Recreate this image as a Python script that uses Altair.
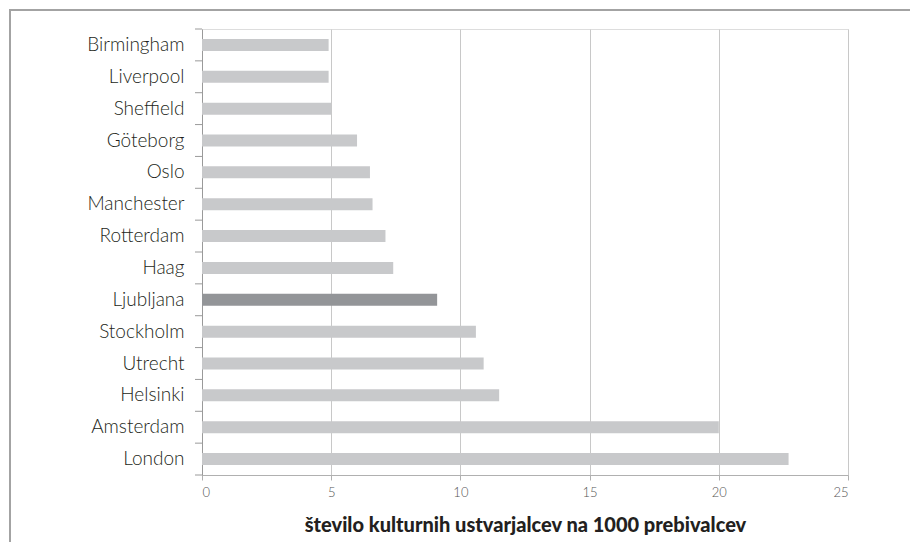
import altair as alt
import pandas as pd

# ---- data ----
cities = ["Birmingham", "Liverpool", "Sheffield", "Göteborg", "Oslo", "Manchester",
          "Rotterdam", "Haag", "Ljubljana", "Stockholm", "Utrecht", "Helsinki",
          "Amsterdam", "London"]
values = [4.9, 4.9, 5.0, 6.0, 6.5, 6.6, 7.1, 7.4, 9.1, 10.6, 10.9, 11.5, 20.0, 22.7]
highlight_city = "Ljubljana"
x_ticks = [0, 5, 10, 15, 20, 25]
x_title = "število kulturnih ustvarjalcev na 1000 prebivalcev"

df = pd.DataFrame({"mesto": cities, "vrednost": values})
df["poudarek"] = ["da" if c == highlight_city else "ne" for c in cities]

FONT = "Lato"
AXIS_GREY = "#9a9a9a"

y_scale = alt.Scale(paddingInner=0, paddingOuter=0)

bars = alt.Chart(df).mark_bar(size=12).encode(
    y=alt.Y(
        "mesto:N",
        sort=cities,
        scale=y_scale,
        axis=alt.Axis(
            title=None,
            ticks=False,
            labelFont=FONT,
            labelFontSize=19,
            labelFontWeight=300,
            labelColor="#231f20",
            labelPadding=18,
            domain=True,
            domainColor=AXIS_GREY,
            domainWidth=1,
            grid=False,
        ),
    ),
    x=alt.X(
        "vrednost:Q",
        scale=alt.Scale(domain=[0, 25], nice=False),
        axis=alt.Axis(
            values=x_ticks,
            grid=True,
            gridColor="#c8c8c8",
            tickSize=5,
            tickColor="#b0b0b0",
            domainColor="#b0b0b0",
            labelFont=FONT,
            labelFontSize=13,
            labelFontWeight=300,
            labelColor="#555555",
            labelPadding=6,
            title=x_title,
            titleFont=FONT,
            titleFontSize=20,
            titleFontWeight=900,
            titleColor="#231f20",
            titlePadding=16,
        ),
    ),
    color=alt.Color(
        "poudarek:N",
        scale=alt.Scale(domain=["ne", "da"], range=["#c8c9cb", "#939598"]),
        legend=None,
    ),
)

# category separator ticks on the y axis (at the start of each band)
sep_ticks = alt.Chart(df).mark_rule(color=AXIS_GREY, strokeWidth=1).encode(
    y=alt.Y("mesto:N", sort=cities, bandPosition=0, scale=y_scale),
    x=alt.value(-7),
    x2=alt.value(0),
)
bottom_tick = alt.Chart(pd.DataFrame({"o": [0]})).mark_rule(
    color=AXIS_GREY, strokeWidth=1
).encode(x=alt.value(-7), x2=alt.value(0), y=alt.value(446))

frame = alt.Chart(pd.DataFrame({"o": [0]})).mark_rect(
    fillOpacity=0, stroke="#a3a3a3", strokeWidth=2
).encode(
    x=alt.value(-192), x2=alt.value(900), y=alt.value(-19), y2=alt.value(700)
)

chart = alt.layer(frame, bars, sep_ticks, bottom_tick).properties(
    width=646,
    height=446,
    autosize=alt.AutoSizeParams(type="none"),
    padding={"left": 194, "top": 21, "right": 62, "bottom": 67},
).configure_view(stroke=None).configure(background="white")

chart.save("out.html", embed_options={"renderer": "svg", "actions": False})
